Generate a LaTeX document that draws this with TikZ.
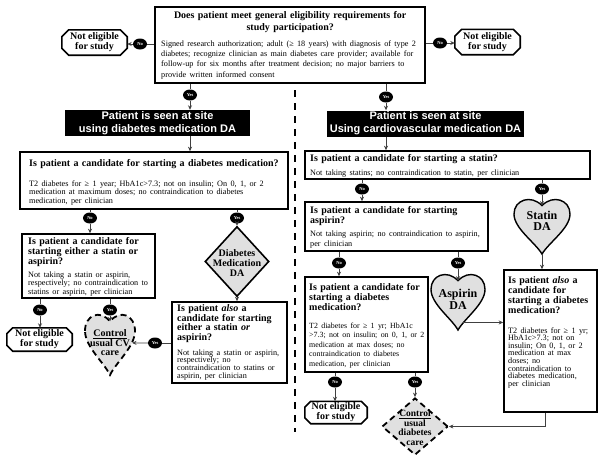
\documentclass[tikz,border=0pt]{standalone}
\usepackage{fontspec}
\setmainfont{Liberation Serif}
\setsansfont{Liberation Sans}
\usetikzlibrary{shapes.geometric,arrows.meta}

\newcommand\hdf[1]{\bfseries\fontsize{10}{#1}\selectfont}
\newcommand\bdf[1]{\normalfont\fontsize{8.2}{#1}\selectfont\lineskiplimit=-5pt\relax}
\newcommand\heartpath{(-0.5,0.3) .. controls (-0.5,0.05) and (-0.2,-0.05) .. (0,0.15) .. controls (0.2,-0.05) and (0.5,0.05) .. (0.5,0.3) .. controls (0.5,0.55) and (0.12,0.8) .. (0,1) .. controls (-0.12,0.8) and (-0.5,0.55) .. (-0.5,0.3) -- cycle}
\newcommand\octa[2]{\draw[octline] ([xshift=#2]#1.north west) -- ([xshift=-#2]#1.north east) -- ([yshift=-#2]#1.north east) -- ([yshift=#2]#1.south east) -- ([xshift=-#2]#1.south east) -- ([xshift=#2]#1.south west) -- ([yshift=#2]#1.south west) -- ([yshift=-#2]#1.north west) -- cycle;}

\tikzset{
 qbox/.style={draw=black, line width=1.6pt, fill=white, inner sep=0pt},
 qtext/.style={inner sep=0pt, anchor=north west, align=left},
 banner/.style={fill=black, inner sep=0pt, text=white, align=center, font=\sffamily\bfseries\fontsize{11}{13}\selectfont},
 endtxt/.style={inner sep=0pt, align=center, font=\bfseries\fontsize{10}{10}\selectfont},
 octline/.style={line width=1.6pt},
 yn/.style={ellipse, fill=black, inner sep=0pt, minimum width=14pt, minimum height=11pt, text=white, font=\bfseries\fontsize{4.5}{5}\selectfont},
 ln/.style={draw=black!75, line width=0.7pt},
 arr/.style={ln, -{Stealth[length=4.5pt,width=4pt]}},
 dmdS/.style={diamond, draw, line width=1.6pt, fill=black!12, inner sep=0pt},
 dashS/.style={draw, line width=1.8pt, dash pattern=on 6pt off 4pt, fill=black!12},
 heartS/.style={draw, line width=1.4pt, fill=black!12},
 shapetxt/.style={inner sep=0pt, align=center},
 sepline/.style={line width=2pt, dash pattern=on 7pt off 6pt},
}

\begin{document}
\begin{tikzpicture}[x=1pt,y=-1pt]
\useasboundingbox[fill=white] (0,0) rectangle (600,459);

% ---------- top eligibility box ----------
\node[qbox, minimum width=270pt, minimum height=76pt] (top) at (290,45) {};
\node[qtext, text width=258pt] (topT) at (161,11) {{\centering\hdf{12}Does patient meet general eligibility requirements for\\study participation?\par}\vspace{5.7pt}{\bdf{10.3}Signed research authorization; adult (≥ 18 years) with diagnosis of type 2\\diabetes; recognize clinician as main diabetes care provider; available for\\follow-up for six months after treatment decision; no major barriers to\\provide written informed consent\par}};

\node[endtxt, minimum width=65pt, minimum height=25pt] (neTL) at (94.5,42.5) {Not eligible\\for study};
\octa{neTL}{7pt}
\node[endtxt, minimum width=65pt, minimum height=25pt] (neTR) at (487.5,42) {Not eligible\\for study};
\octa{neTR}{7pt}

% ---------- banners ----------
\node[banner, minimum width=185pt, minimum height=26pt] (banL) at (157.5,123) {Patient is seen at site\\using diabetes medication DA};
\node[banner, minimum width=197pt, minimum height=26pt] (banR) at (425.5,123.5) {Patient is seen at site\\Using cardiovascular medication DA};

% ---------- left column ----------
\node[qbox, minimum width=268pt, minimum height=57pt] (diabL) at (154,180.5) {};
\node[qtext, text width=262pt] (diabLT) at (29,159.5) {{\hdf{12}Is patient a candidate for starting a diabetes medication?\par}\vspace{11pt}{\bdf{8.5}T2 diabetes for ≥ 1 year; HbA1c>7.3; not on insulin; On 0, 1, or 2\\medication at maximum doses; no contraindication to diabetes\\medication, per clinician\par}};

\node[qbox, minimum width=133pt, minimum height=64pt] (saL) at (88.5,266) {};
\node[qtext, text width=132pt] (saLT) at (28,237.5) {{\hdf{10}Is patient a candidate for\\starting either a statin or\\aspirin?\par}\vspace{4pt}{\bdf{8.5}Not taking a statin or aspirin,\\respectively; no contraindication to\\statins or aspirin, per clinician\par}};

\node[dmdS, minimum width=64pt, minimum height=70pt] (dmd) at (237,261.5) {};
\node[shapetxt, font=\bfseries\fontsize{10}{10}\selectfont] (dmdT) at (237,263) {Diabetes\\Medication\\DA};

\node[qbox, minimum width=115pt, minimum height=81pt] (alsoS) at (229.5,342.5) {};
\node[qtext, text width=114pt] (alsoST) at (177,304.5) {{\hdf{9.5}Is patient \textit{also} a\\candidate for starting\\either a statin \textit{or}\\aspirin?\par}\vspace{7.3pt}{\bdf{7.7}Not taking a statin or aspirin,\\respectively; no\\contraindication to statins or\\aspirin, per clinician\par}};

\node[endtxt, minimum width=65pt, minimum height=23pt] (neBL) at (39.5,339.5) {Not eligible\\for study};
\octa{neBL}{6pt}

\begin{scope}[shift={(110,312)}, xscale=50, yscale=63]
 \path[dashS] \heartpath;
 \coordinate (hCT) at (0,0.15);
 \coordinate (hCR) at (0.44,0.49);
\end{scope}
\node[shapetxt, font=\bfseries\fontsize{10}{9.5}\selectfont] (hCTx) at (110,343) {\underline{Control}\\usual CV\\care};

% ---------- right column ----------
\node[qbox, minimum width=285pt, minimum height=28pt] (stat) at (447.5,165) {};
\node[qtext, text width=280pt] (statT) at (310,154.5) {{\hdf{12}Is patient a candidate for starting a statin?\par}\vspace{5pt}{\bdf{8.5}Not taking statins; no contraindication to statin, per clinician\par}};

\node[qbox, minimum width=183pt, minimum height=49pt] (asp) at (396.5,226.5) {};
\node[qtext, text width=182pt] (aspT) at (310,206.5) {{\hdf{10}Is patient a candidate for starting\\aspirin?\par}\vspace{3.5pt}{\bdf{9.5}Not taking aspirin; no contraindication to aspirin,\\per clinician\par}};

\begin{scope}[shift={(542,197)}, xscale=56, yscale=57]
 \path[heartS] \heartpath;
 \coordinate (hST) at (0,0.15);
 \coordinate (hSB) at (0,1);
\end{scope}
\node[shapetxt, font=\bfseries\fontsize{12}{10.5}\selectfont] (hSTx) at (542,221) {Statin\\DA};

\begin{scope}[shift={(458,272)}, xscale=54, yscale=58]
 \path[heartS] \heartpath;
 \coordinate (hAT) at (0,0.15);
 \coordinate (hAR) at (0.1,0.87);
\end{scope}
\node[shapetxt, font=\bfseries\fontsize{12}{12}\selectfont] (hATx) at (458,299) {Aspirin\\DA};

\node[qbox, minimum width=123pt, minimum height=95pt] (diabR) at (366.5,324.5) {};
\node[qtext, text width=135pt] (diabRT) at (309,283.5) {{\hdf{10}Is patient a candidate for\\starting a diabetes\\medication?\par}\vspace{8pt}{\normalfont\fontsize{7.9}{9.5}\selectfont T2 diabetes for ≥ 1 yr; HbA1c\\>7.3; not on insulin; on 0, 1, or 2\\medication at max doses; no\\contraindication to diabetes\\medication, per clinician\par}};

\node[qbox, minimum width=93pt, minimum height=142pt] (alsoD) at (550.5,341) {};
\node[qtext, text width=95pt] (alsoDT) at (508,276.5) {{\hdf{10}Is patient \textit{also} a\\candidate for\\starting a diabetes\\medication?\par}\vspace{11.9pt}{\bdf{7.6}T2 diabetes for ≥ 1 yr;\\HbA1c>7.3; not on\\insulin; On 0, 1, or 2\\medication at max\\doses; no\\contraindication to\\diabetes medication,\\per clinician\par}};

\node[endtxt, minimum width=62pt, minimum height=22pt] (neBR) at (336,412.5) {Not eligible\\for study};
\octa{neBR}{6pt}

\node[diamond, dashS, inner sep=0pt, minimum width=66pt, minimum height=57pt] (cud) at (415,426.5) {};
\node[shapetxt, font=\bfseries\fontsize{9.5}{9.5}\selectfont] (cudT) at (415,427.5) {\underline{Control}\\usual\\diabetes\\care};

% ---------- separator ----------
\draw[sepline] (295,90) -- (295,432);

% ---------- yes / no markers ----------
\node[yn] (noTL) at (140,44) {No};
\node[yn] (noTR) at (440,43) {No};
\node[yn] (yesTL) at (190,95) {Yes};
\node[yn] (yesTR) at (386,97) {Yes};
\node[yn] (noL1) at (90,218) {No};
\node[yn] (yesL1) at (237,218) {Yes};
\node[yn] (noL2) at (40,310) {No};
\node[yn] (yesL2) at (110,310) {Yes};
\node[yn] (yesL3) at (155,343) {Yes};
\node[yn] (noR1) at (362,189) {No};
\node[yn] (yesR1) at (542,189) {Yes};
\node[yn] (noR2) at (339,263) {No};
\node[yn] (yesR2) at (458,263) {Yes};
\node[yn] (noR3) at (335,382) {No};
\node[yn] (yesR3) at (415,382) {Yes};

% ---------- connectors ----------
\draw[ln] (top.west |- noTL) -- (noTL);
\draw[arr] (noTL) -- (neTL.east |- noTL);
\draw[ln] (top.east |- noTR) -- (noTR);
\draw[arr] (noTR) -- (neTR.west |- noTR);
\draw[ln] (top.south -| yesTL) -- (yesTL);
\draw[arr] (yesTL) -- (banL.north -| yesTL);
\draw[ln] (top.south -| yesTR) -- (yesTR);
\draw[arr] (yesTR) -- (banR.north -| yesTR);

\draw[arr] (banL.south -| yesTL) -- (diabL.north -| yesTL);
\draw[ln] (diabL.south -| noL1) -- (noL1);
\draw[arr] (noL1) -- (saL.north -| noL1);
\draw[ln] (diabL.south -| yesL1) -- (yesL1);
\draw[arr] (yesL1) -- (dmd.north);
\draw[arr] (dmd.south) -- (alsoS.north -| dmd.south);
\draw[ln] (saL.south -| noL2) -- (noL2);
\draw[arr] (noL2) -- (neBL.north -| noL2);
\draw[ln] (saL.south -| yesL2) -- (yesL2);
\draw[arr] (yesL2) -- (hCT);
\draw[ln] (alsoS.west |- yesL3) -- (yesL3);
\draw[arr] (yesL3) -- (hCR);

\draw[arr] (banR.south -| yesTR) -- (stat.north -| yesTR);
\draw[ln] (stat.south -| noR1) -- (noR1);
\draw[arr] (noR1) -- (asp.north -| noR1);
\draw[ln] (stat.south -| yesR1) -- (yesR1);
\draw[arr] (yesR1) -- (hST);
\draw[arr] (hSB) -- (alsoD.north -| hSB);
\draw[ln] (asp.south -| noR2) -- (noR2);
\draw[arr] (noR2) -- (diabR.north -| noR2);
\draw[ln] (asp.south -| yesR2) -- (yesR2);
\draw[arr] (yesR2) -- (hAT);
\draw[arr] (hAR) -- (alsoD.west |- hAR);
\draw[ln] (diabR.south -| noR3) -- (noR3);
\draw[arr] (noR3) -- (neBR.north -| noR3);
\draw[ln] (diabR.south -| yesR3) -- (yesR3);
\draw[arr] (yesR3) -- (cud.north);
\draw[arr] ([xshift=-5.5pt]alsoD.south) |- (cud.east);
\end{tikzpicture}
\end{document}
